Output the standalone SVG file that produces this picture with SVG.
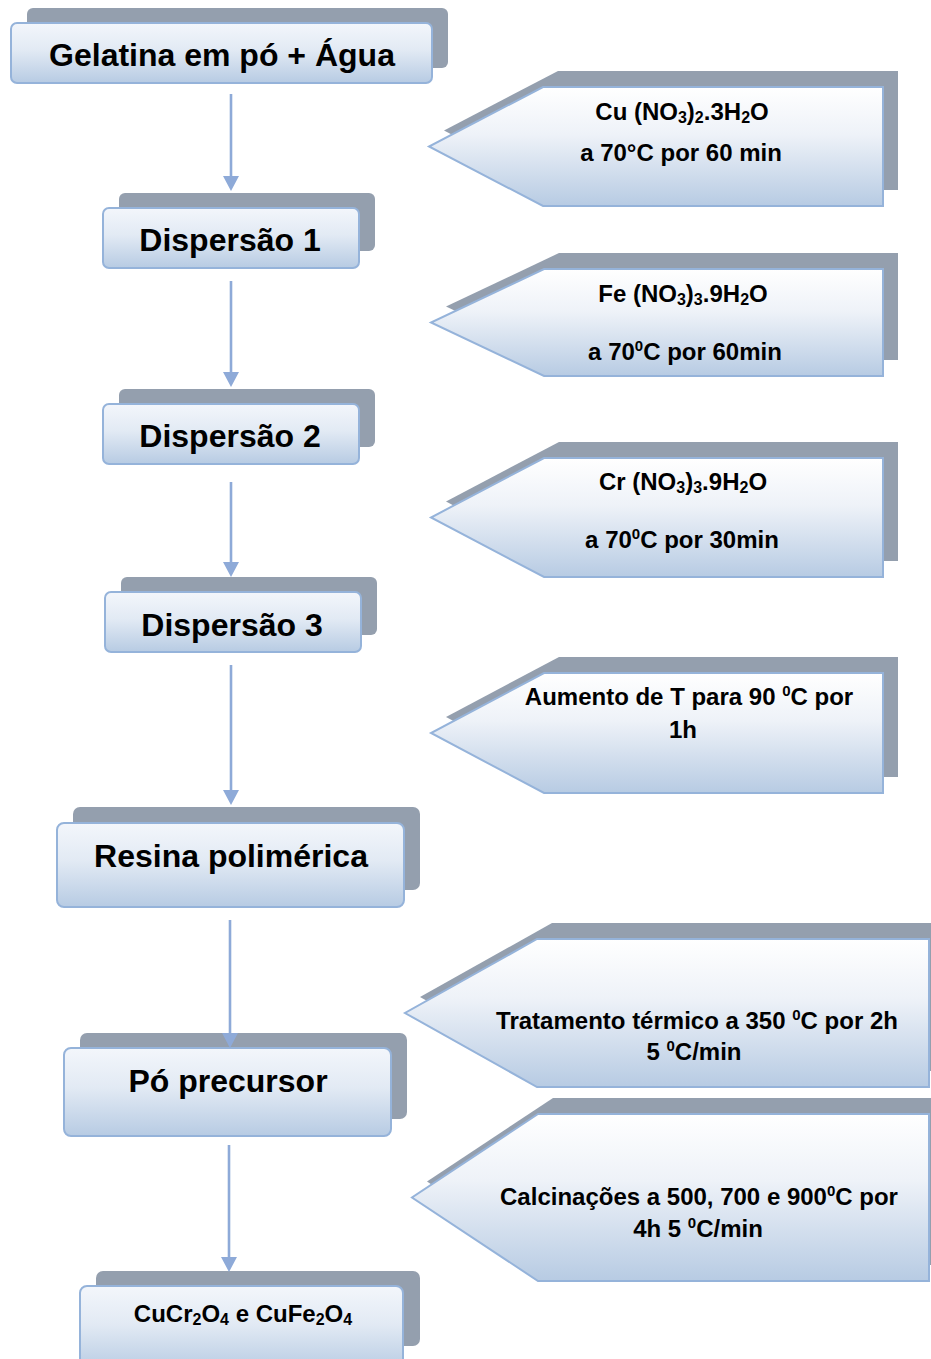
<svg xmlns="http://www.w3.org/2000/svg" width="931" height="1359" viewBox="0 0 931 1359">
<defs>
<linearGradient id="gBox" x1="0" y1="0" x2="0" y2="1">
<stop offset="0" stop-color="#F3F6FB"/>
<stop offset="0.45" stop-color="#E2EAF4"/>
<stop offset="1" stop-color="#B7CBE3"/>
</linearGradient>
<linearGradient id="gCall" x1="0" y1="0" x2="0" y2="1">
<stop offset="0" stop-color="#FFFFFF"/>
<stop offset="0.4" stop-color="#EEF2F8"/>
<stop offset="1" stop-color="#B7CBE3"/>
</linearGradient>
<marker id="ah" viewBox="0 0 15 16" markerWidth="15" markerHeight="16" markerUnits="userSpaceOnUse" refX="9" refY="8" orient="auto">
<path d="M0,0 L15,8 L0,16 Z" fill="#8EAAD8"/>
</marker>
</defs>
<style>
.sh{fill:#949FAE}
.fr{fill:url(#gBox);stroke:#95B3DA;stroke-width:2}
.cf{fill:url(#gCall);stroke:#95B3DA;stroke-width:2}
.bt{font-family:"Liberation Sans",Arial,sans-serif;font-weight:bold;font-size:32px;fill:#000;text-anchor:middle}
.ct{font-family:"Liberation Sans",Arial,sans-serif;font-weight:bold;font-size:24px;fill:#000;text-anchor:middle}
.ft{font-family:"Liberation Sans",Arial,sans-serif;font-weight:bold;font-size:24px;fill:#000;text-anchor:middle}
.sub{font-size:16px}
.sup{font-size:15px}
.con{stroke:#8EAAD8;stroke-width:2.6;fill:none;marker-end:url(#ah)}
</style>

<g id="n-gelatina">
<rect class="sh" x="27" y="8" width="421" height="60" rx="6"/>
<rect class="fr" x="11" y="23" width="421" height="60" rx="6"/>
<text class="bt" x="222" y="66">Gelatina em pó + Água</text>
</g>

<g id="n-disp1">
<rect class="sh" x="119" y="193" width="256" height="58" rx="6"/>
<rect class="fr" x="103" y="208" width="256" height="60" rx="6"/>
<text class="bt" x="230" y="251">Dispersão 1</text>
</g>

<g id="n-disp2">
<rect class="sh" x="119" y="389" width="256" height="58" rx="6"/>
<rect class="fr" x="103" y="404" width="256" height="60" rx="6"/>
<text class="bt" x="230" y="447">Dispersão 2</text>
</g>

<g id="n-disp3">
<rect class="sh" x="121" y="577" width="256" height="58" rx="6"/>
<rect class="fr" x="105" y="592" width="256" height="60" rx="6"/>
<text class="bt" x="232" y="636">Dispersão 3</text>
</g>

<g id="n-resina">
<rect class="sh" x="73" y="807" width="347" height="83" rx="7"/>
<rect class="fr" x="57" y="823" width="347" height="84" rx="7"/>
<text class="bt" x="231" y="867">Resina polimérica</text>
</g>

<g id="n-po">
<rect class="sh" x="80" y="1033" width="327" height="86" rx="7"/>
<rect class="fr" x="64" y="1048" width="327" height="88" rx="7"/>
<text class="bt" x="228" y="1092">Pó precursor</text>
</g>

<g id="n-final">
<rect class="sh" x="96" y="1271" width="324" height="75" rx="7"/>
<rect class="fr" x="80" y="1286" width="323" height="85" rx="7"/>
<text class="ft" x="243" y="1322">CuCr<tspan class="sub" dy="3">2</tspan><tspan dy="-3">O</tspan><tspan class="sub" dy="3">4</tspan><tspan dy="-3"> e CuFe</tspan><tspan class="sub" dy="3">2</tspan><tspan dy="-3">O</tspan><tspan class="sub" dy="3">4</tspan></text>
</g>

<g id="c-cu">
<polygon class="sh" points="558,71 898,71 898,190 558,190 444,130.5"/>
<polygon class="cf" points="543,87 883,87 883,206 543,206 429,146.5"/>
<text class="ct" x="682" y="120">Cu (NO<tspan class="sub" dy="3">3</tspan><tspan dy="-3">)</tspan><tspan class="sub" dy="3">2</tspan><tspan dy="-3">.3H</tspan><tspan class="sub" dy="3">2</tspan><tspan dy="-3">O</tspan></text>
<text class="ct" x="681" y="161">a 70°C por 60 min</text>
</g>

<g id="c-fe">
<polygon class="sh" points="559,253 898,253 898,360 559,360 446,306.5"/>
<polygon class="cf" points="544,269 883,269 883,376 544,376 431,322.5"/>
<text class="ct" x="683" y="302">Fe (NO<tspan class="sub" dy="3">3</tspan><tspan dy="-3">)</tspan><tspan class="sub" dy="3">3</tspan><tspan dy="-3">.9H</tspan><tspan class="sub" dy="3">2</tspan><tspan dy="-3">O</tspan></text>
<text class="ct" x="685" y="360">a 70<tspan class="sup" dy="-9">0</tspan><tspan dy="9">C por 60min</tspan></text>
</g>

<g id="c-cr">
<polygon class="sh" points="559,442 898,442 898,561 559,561 446,501.5"/>
<polygon class="cf" points="544,458 883,458 883,577 544,577 431,517.5"/>
<text class="ct" x="683" y="490">Cr (NO<tspan class="sub" dy="3">3</tspan><tspan dy="-3">)</tspan><tspan class="sub" dy="3">3</tspan><tspan dy="-3">.9H</tspan><tspan class="sub" dy="3">2</tspan><tspan dy="-3">O</tspan></text>
<text class="ct" x="682" y="548">a 70<tspan class="sup" dy="-9">0</tspan><tspan dy="9">C por 30min</tspan></text>
</g>

<g id="c-aumento">
<polygon class="sh" points="559,657 898,657 898,777 559,777 446,717"/>
<polygon class="cf" points="544,673 883,673 883,793 544,793 431,733"/>
<text class="ct" x="689" y="705">Aumento de T para 90 <tspan class="sup" dy="-9">0</tspan><tspan dy="9">C por</tspan></text>
<text class="ct" x="683" y="738">1h</text>
</g>

<g id="c-tratamento">
<polygon class="sh" points="552,923 945,923 945,1071 552,1071 420,997"/>
<polygon class="cf" points="537,939 929,939 929,1087 537,1087 405,1013"/>
<text class="ct" x="697" y="1029">Tratamento térmico a 350 <tspan class="sup" dy="-9">0</tspan><tspan dy="9">C por 2h</tspan></text>
<text class="ct" x="694" y="1060">5 <tspan class="sup" dy="-9">0</tspan><tspan dy="9">C/min</tspan></text>
</g>

<g id="c-calcinacao">
<polygon class="sh" points="553,1098 946,1098 946,1265 553,1265 427,1181.5"/>
<polygon class="cf" points="538,1114 929,1114 929,1281 538,1281 412,1197.5"/>
<text class="ct" x="699" y="1205">Calcinações a 500, 700 e 900<tspan class="sup" dy="-9">0</tspan><tspan dy="9">C por</tspan></text>
<text class="ct" x="698" y="1237">4h 5 <tspan class="sup" dy="-9">0</tspan><tspan dy="9">C/min</tspan></text>
</g>

<g id="connectors">
<line class="con" x1="231" y1="94" x2="231" y2="185"/>
<line class="con" x1="231" y1="281" x2="231" y2="381"/>
<line class="con" x1="231" y1="482" x2="231" y2="571"/>
<line class="con" x1="231" y1="665" x2="231" y2="799"/>
<line class="con" x1="230" y1="920" x2="230" y2="1042"/>
<line class="con" x1="229" y1="1145" x2="229" y2="1266"/>
</g>
</svg>
